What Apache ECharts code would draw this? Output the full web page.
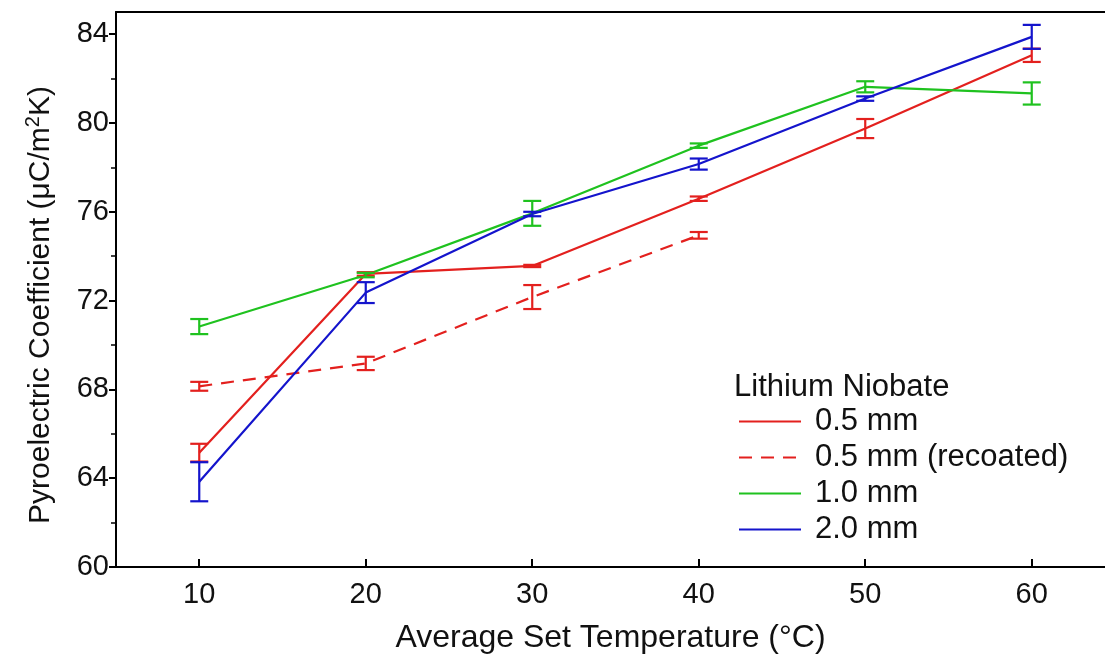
<!DOCTYPE html>
<html>
<head>
<meta charset="utf-8">
<script src="https://cdn.jsdelivr.net/npm/echarts@6/dist/echarts.min.js"></script>
<style>
  html, body { margin: 0; padding: 0; background: #fff; }
  #chart { width: 1105px; height: 659px; }
</style>
</head>
<body>
<div id="chart"></div>
<script>
const temps = [10, 20, 30, 40, 50, 60];
const xTicks = [10, 20, 30, 40, 50, 60];
const yTicks = [60, 64, 68, 72, 76, 80, 84];

const names = ["0.5 mm", "0.5 mm (recoated)", "1.0 mm", "2.0 mm"];
const colors = ["#e3201e", "#e3201e", "#1fc21f", "#1414cc"];

const ln05 = [65.15, 73.2, 73.56, 76.59, 79.75, 83.05];
const ln05Err = [0.4, 0.08, 0.05, 0.1, 0.43, 0.3];
const ln05r = [68.14, 69.17, 72.16, 74.94];
const ln05rErr = [0.2, 0.3, 0.54, 0.15];
const ln10 = [70.83, 73.15, 75.93, 78.98, 81.63, 81.33];
const ln10Err = [0.34, 0.1, 0.56, 0.1, 0.25, 0.5];
const ln20 = [63.84, 72.36, 75.9, 78.15, 81.1, 83.88];
const ln20Err = [0.88, 0.47, 0.1, 0.25, 0.1, 0.54];

const values = [ln05, ln05r, ln10, ln20];
const errors = [ln05Err, ln05rErr, ln10Err, ln20Err];

const font = '"Liberation Sans", Arial, sans-serif';

function errBar(color) {
  return function (params, api) {
    const x = api.value(0);
    const lo = api.coord([x, api.value(1)]);
    const hi = api.coord([x, api.value(2)]);
    const w = 9;
    const st = { stroke: color, lineWidth: 2.2 };
    return {
      type: "group",
      children: [
        { type: "line", shape: { x1: lo[0], y1: lo[1], x2: hi[0], y2: hi[1] }, style: st },
        { type: "line", shape: { x1: lo[0] - w, y1: lo[1], x2: lo[0] + w, y2: lo[1] }, style: st },
        { type: "line", shape: { x1: hi[0] - w, y1: hi[1], x2: hi[0] + w, y2: hi[1] }, style: st }
      ]
    };
  };
}

const series = [];
values.forEach((vals, i) => {
  series.push({
    name: names[i],
    type: "line",
    data: vals.map((v, j) => [temps[j], v]),
    symbol: "none",
    lineStyle: { color: colors[i], width: 2.2, type: i === 1 ? [13, 9] : "solid" },
    itemStyle: { color: colors[i] },
    z: 3
  });
  series.push({
    name: names[i] + " err",
    type: "custom",
    renderItem: errBar(colors[i]),
    data: vals.map((v, j) => [temps[j], v - errors[i][j], v + errors[i][j]]),
    encode: { x: 0, y: [1, 2] },
    z: 4
  });
});

const chart = echarts.init(document.getElementById("chart"));
chart.setOption({
  animation: false,
  backgroundColor: "#fff",
  textStyle: { fontFamily: font },
  title: {
    text: "Lithium Niobate",
    left: 734,
    top: 372,
    padding: 0,
    textStyle: { fontFamily: font, fontSize: 31, lineHeight: 31, fontWeight: "normal", color: "#111" }
  },
  graphic: [
    {
      type: "text",
      x: 41,
      y: 305,
      rotation: Math.PI / 2,
      style: {
        text: "Pyroelectric Coefficient (μC/m{sup|2}K)",
        font: '30px "Liberation Sans", Arial, sans-serif',
        fill: "#111",
        align: "center",
        verticalAlign: "middle",
        rich: { sup: { fontFamily: font, fontSize: 20, fill: "#111", padding: [0, 0, 16, 0] } }
      }
    }
  ],
  legend: {
    data: names,
    orient: "vertical",
    left: 738,
    top: 398,
    padding: 0,
    itemWidth: 62,
    itemHeight: 14,
    itemGap: -11,
    itemStyle: { opacity: 0 },
    textStyle: { fontFamily: font, fontSize: 31, lineHeight: 31, color: "#111", padding: [0, 0, 16, 9] }
  },
  grid: { left: 116, right: 0, top: 12, bottom: 91 },
  xAxis: [
    {
      type: "value",
      min: 5,
      max: 64.4,
      name: "Average Set Temperature (°C)",
      nameLocation: "middle",
      nameGap: 55,
      nameTextStyle: { fontFamily: font, fontSize: 32, color: "#111" },
      axisLine: { show: true, lineStyle: { color: "#000", width: 2 } },
      axisTick: { show: true, inside: true, length: 8, customValues: xTicks, lineStyle: { color: "#000", width: 2 } },
      axisLabel: { customValues: xTicks, fontFamily: font, fontSize: 29, color: "#111", margin: 13 },
      splitLine: { show: false }
    },
    {
      type: "value",
      position: "top",
      min: 5,
      max: 64.4,
      axisLine: { show: true, lineStyle: { color: "#000", width: 2 } },
      axisTick: { show: false },
      axisLabel: { show: false },
      splitLine: { show: false }
    }
  ],
  yAxis: {
    type: "value",
    min: 60,
    max: 85,
    interval: 4,
    axisLine: { show: true, lineStyle: { color: "#000", width: 2 } },
    axisTick: { show: true, length: 7, customValues: yTicks, lineStyle: { color: "#000", width: 2 } },
    minorTick: { show: true, splitNumber: 2, length: 5, lineStyle: { color: "#000", width: 1.5 } },
    axisLabel: { customValues: yTicks, fontFamily: font, fontSize: 29, color: "#111", margin: 7 },
    splitLine: { show: false }
  },
  series: series
});
</script>
</body>
</html>
